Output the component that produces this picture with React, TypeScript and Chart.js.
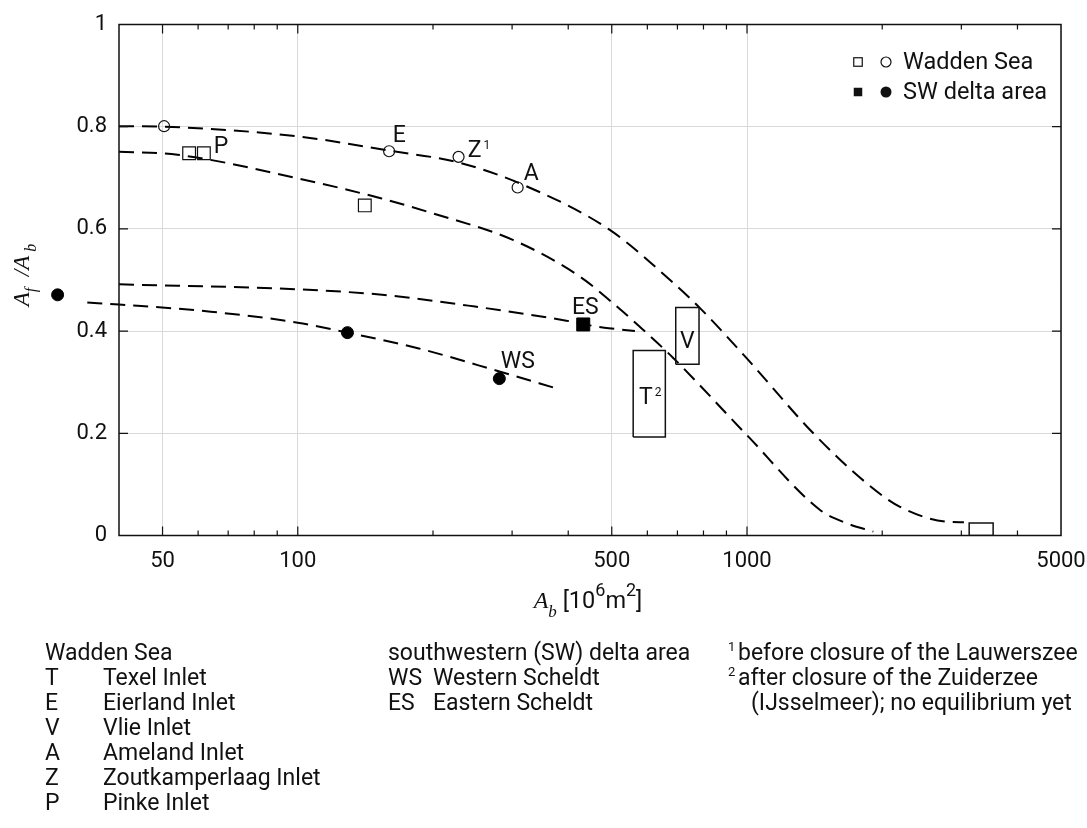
import React, { useEffect, useRef } from "react";
import { Chart, registerables } from "chart.js";

Chart.register(...registerables);

const CANVAS_W = 1087;
const CANVAS_H = 828;

// x: basin area Ab [10^6 m^2] (log axis), y: Af/Ab
const xMajorTicks = [50, 100, 500, 1000, 5000];
const xMinorTicks = [60, 70, 80, 90, 200, 300, 400, 600, 700, 800, 900, 2000, 3000, 4000];
const yTicks = [0, 0.2, 0.4, 0.6, 0.8, 1];

// dashed equilibrium curves
const upperCurveX = [40, 50, 100, 160, 228, 318, 495, 680, 786, 998, 1405, 1848, 2191, 2788, 3040];
const upperCurveY = [0.801, 0.8, 0.781, 0.753, 0.73, 0.686, 0.598, 0.497, 0.445, 0.347, 0.2, 0.102, 0.056, 0.027, 0.026];
const lowerCurveX = [40, 54, 100, 153, 197, 302, 425, 504, 578, 686, 998, 1454, 1667, 1911];
const lowerCurveY = [0.751, 0.745, 0.699, 0.66, 0.632, 0.578, 0.5065, 0.454, 0.408, 0.347, 0.197, 0.05, 0.024, 0.0075];
const esCurveX = [40, 100, 156, 248, 396, 432, 462, 563];
const esCurveY = [0.4916, 0.4818, 0.4706, 0.448, 0.4204, 0.414, 0.409, 0.4];
const wsCurveX = [34, 40, 64, 100, 129, 186, 281, 383];
const wsCurveY = [0.456, 0.452, 0.438, 0.4165, 0.397, 0.366, 0.321, 0.286];

// observations
const waddenCircleX = [50.4, 159.7, 228, 308.6];
const waddenCircleY = [0.801, 0.752, 0.741, 0.681];
const waddenSquareX = [57.3, 61.8, 141];
const waddenSquareY = [0.748, 0.748, 0.646];
const swCircleX = [29.2, 129, 281];
const swCircleY = [0.471, 0.397, 0.307];
const swSquareX = [432];
const swSquareY = [0.413];

// range boxes: [xMin, xMax, yMin, yMax]
const texelBox = [558, 658, 0.193, 0.362];
const vlieBox = [694, 782, 0.335, 0.446];
const largeBox = [3123, 3531, 0, 0.0245];

// point labels
const labelText = ["P", "E", "Z", "A", "ES", "WS", "T", "V"];
const labelSup = ["", "", "1", "", "", "", "2", ""];
const labelX = [65.0, 162.8, 239, 318.6, 407.7, 283, 574.7, 709];
const labelY = [0.7485, 0.77, 0.7407, 0.6957, 0.4335, 0.3278, 0.2573, 0.3669];

// legend & footnotes
const legendLabels = ["Wadden Sea", "SW delta area"];
const waddenCodes = ["T", "E", "V", "A", "Z", "P"];
const waddenNames = ["Texel Inlet", "Eierland Inlet", "Vlie Inlet", "Ameland Inlet", "Zoutkamperlaag Inlet", "Pinke Inlet"];
const swCodes = ["WS", "ES"];
const swNames = ["Western Scheldt", "Eastern Scheldt"];

const SANS = "Roboto, 'Noto Sans', sans-serif";
const SERIF = "'Liberation Serif', 'DejaVu Serif', serif";
const INK = "#111";

const pts = (xs: number[], ys: number[]) => xs.map((x, i) => ({ x, y: ys[i] }));
const boxPts = (b: number[]) => [
  { x: b[0], y: b[2] },
  { x: b[1], y: b[2] },
  { x: b[1], y: b[3] },
  { x: b[0], y: b[3] },
  { x: b[0], y: b[2] },
];

const curveDs = (xs: number[], ys: number[]) => ({
  data: pts(xs, ys),
  showLine: true,
  borderColor: "#000",
  borderWidth: 2,
  borderDash: [15, 8],
  pointRadius: 0,
  cubicInterpolationMode: "monotone" as const,
  fill: false,
  clip: false as const,
  order: 3,
});

const boxDs = (b: number[]) => ({
  data: boxPts(b),
  showLine: true,
  borderColor: "#111",
  borderWidth: 1.5,
  pointRadius: 0,
  tension: 0,
  fill: false,
  order: 2,
});

type Part = { t: string; font: string; dy: number };

function drawParts(ctx: CanvasRenderingContext2D, parts: Part[], cx: number, baseline: number) {
  let total = 0;
  for (const p of parts) {
    ctx.font = p.font;
    total += ctx.measureText(p.t).width;
  }
  let x = cx - total / 2;
  ctx.textAlign = "left";
  ctx.textBaseline = "alphabetic";
  for (const p of parts) {
    ctx.font = p.font;
    ctx.fillText(p.t, x, baseline + p.dy);
    x += ctx.measureText(p.t).width;
  }
}

const decorPlugin = {
  id: "decor",
  afterDatasetsDraw(chart: any) {
    const { ctx, chartArea: a } = chart;
    const xs = chart.scales.x;
    const ys = chart.scales.y;
    ctx.save();

    // points lying outside the plot frame (Chart.js skips them by default)
    const wide = { left: -1e4, top: -1e4, right: 1e4, bottom: 1e4 };
    chart.data.datasets.forEach((ds: any, i: number) => {
      if (ds.clip !== false || ds.showLine) return;
      const meta = chart.getDatasetMeta(i);
      meta.data.forEach((el: any) => {
        if (el.x < a.left || el.x > a.right || el.y < a.top || el.y > a.bottom) el.draw(ctx, wide);
      });
    });

    ctx.fillStyle = INK;
    ctx.strokeStyle = INK;

    // inward tick marks
    ctx.lineWidth = 1.2;
    ctx.beginPath();
    for (const v of xMajorTicks) {
      const p = xs.getPixelForValue(v);
      if (p <= a.left + 1 || p >= a.right - 1) continue;
      ctx.moveTo(p, a.bottom);
      ctx.lineTo(p, a.bottom - 9);
      ctx.moveTo(p, a.top);
      ctx.lineTo(p, a.top + 9);
    }
    for (const v of xMinorTicks) {
      const p = xs.getPixelForValue(v);
      ctx.moveTo(p, a.bottom);
      ctx.lineTo(p, a.bottom - 5);
      ctx.moveTo(p, a.top);
      ctx.lineTo(p, a.top + 5);
    }
    for (const v of yTicks) {
      const p = ys.getPixelForValue(v);
      if (p <= a.top + 1 || p >= a.bottom - 1) continue;
      ctx.moveTo(a.left, p);
      ctx.lineTo(a.left + 9, p);
      ctx.moveTo(a.right, p);
      ctx.lineTo(a.right - 9, p);
    }
    ctx.stroke();

    // frame
    ctx.lineWidth = 1.5;
    ctx.strokeRect(a.left, a.top, a.right - a.left, a.bottom - a.top);

    // point labels
    ctx.textAlign = "left";
    ctx.textBaseline = "alphabetic";
    labelText.forEach((t, i) => {
      const px = xs.getPixelForValue(labelX[i]);
      const py = ys.getPixelForValue(labelY[i]);
      ctx.font = `23px ${SANS}`;
      ctx.fillText(t, px, py);
      if (labelSup[i]) {
        const w = ctx.measureText(t).width;
        ctx.font = `12px ${SANS}`;
        ctx.fillText(labelSup[i], px + w + 2, py - 8);
      }
    });

    // legend
    const lx = a.right - 158;
    const rows = [a.top + 44.5, a.top + 74.5];
    ctx.lineWidth = 1.2;
    rows.forEach((by, i) => {
      const cy = by - 7;
      const sq = 8.5;
      if (i === 0) {
        ctx.strokeRect(lx - 45 - sq / 2, cy - sq / 2, sq, sq);
        ctx.beginPath();
        ctx.arc(lx - 17, cy, 5, 0, Math.PI * 2);
        ctx.stroke();
      } else {
        ctx.fillRect(lx - 45 - sq / 2, cy - sq / 2, sq, sq);
        ctx.beginPath();
        ctx.arc(lx - 17, cy, 5.5, 0, Math.PI * 2);
        ctx.fill();
      }
      ctx.font = `23.5px ${SANS}`;
      ctx.fillText(legendLabels[i], lx, by);
    });

    // x axis title: A_b [10^6 m^2]
    drawParts(
      ctx,
      [
        { t: "A", font: `italic 24px ${SERIF}`, dy: 0 },
        { t: "b", font: `italic 17px ${SERIF}`, dy: 9 },
        { t: " [10", font: `23.5px ${SANS}`, dy: 0 },
        { t: "6", font: `18px ${SANS}`, dy: -12 },
        { t: "m", font: `23.5px ${SANS}`, dy: 0 },
        { t: "2", font: `18px ${SANS}`, dy: -12 },
        { t: "]", font: `23.5px ${SANS}`, dy: 0 },
      ],
      (a.left + a.right) / 2 - 2,
      a.bottom + 72.5
    );

    // y axis title: A_f / A_b
    ctx.save();
    ctx.translate(29, (a.top + a.bottom) / 2 - 5);
    ctx.rotate(-Math.PI / 2);
    drawParts(
      ctx,
      [
        { t: "A", font: `italic 23px ${SERIF}`, dy: 0 },
        { t: "f", font: `italic 16px ${SERIF}`, dy: 7 },
        { t: "  /", font: `italic 23px ${SERIF}`, dy: 0 },
        { t: "A", font: `italic 23px ${SERIF}`, dy: 0 },
        { t: " b", font: `italic 16px ${SERIF}`, dy: 7 },
      ],
      0,
      0
    );
    ctx.restore();

    // footnotes / key
    const rowY = (k: number) => 660 + 25 * k;
    ctx.font = `23px ${SANS}`;
    ctx.fillText("Wadden Sea", 45, rowY(0));
    waddenCodes.forEach((c, i) => {
      ctx.fillText(c, 45, rowY(i + 1));
      ctx.fillText(waddenNames[i], 103, rowY(i + 1));
    });
    ctx.fillText("southwestern (SW) delta area", 388, rowY(0));
    swCodes.forEach((c, i) => {
      ctx.fillText(c, 388, rowY(i + 1));
      ctx.fillText(swNames[i], 433, rowY(i + 1));
    });
    ctx.font = `13px ${SANS}`;
    ctx.fillText("1", 728, rowY(0) - 9);
    ctx.fillText("2", 728, rowY(1) - 9);
    ctx.font = `23px ${SANS}`;
    ctx.fillText("before closure of the Lauwerszee", 738, rowY(0));
    ctx.fillText("after closure of the Zuiderzee", 738, rowY(1));
    ctx.fillText("(IJsselmeer); no equilibrium yet", 751, rowY(2));

    ctx.restore();
  },
};

export default function App() {
  const ref = useRef<HTMLCanvasElement | null>(null);

  useEffect(() => {
    if (!ref.current) return;
    const chart = new Chart(ref.current, {
      type: "scatter",
      data: {
        datasets: [
          {
            data: pts(waddenCircleX, waddenCircleY),
            pointStyle: "circle",
            pointRadius: 5.5,
            pointBorderWidth: 1.2,
            pointBorderColor: "#111",
            pointBackgroundColor: "rgba(255,255,255,0)",
            order: 0,
          },
          {
            data: pts(waddenSquareX, waddenSquareY),
            pointStyle: "rect",
            pointRadius: 9,
            pointBorderWidth: 1.2,
            pointBorderColor: "#111",
            pointBackgroundColor: "rgba(255,255,255,0)",
            order: 0,
          },
          {
            data: pts(swCircleX, swCircleY),
            pointStyle: "circle",
            pointRadius: 6,
            pointBorderWidth: 1,
            pointBorderColor: "#000",
            pointBackgroundColor: "#000",
            clip: false,
            order: 0,
          },
          {
            data: pts(swSquareX, swSquareY),
            pointStyle: "rect",
            pointRadius: 9.2,
            pointBorderWidth: 1,
            pointBorderColor: "#000",
            pointBackgroundColor: "#000",
            order: 0,
          },
          boxDs(texelBox),
          boxDs(vlieBox),
          boxDs(largeBox),
          curveDs(upperCurveX, upperCurveY),
          curveDs(lowerCurveX, lowerCurveY),
          curveDs(esCurveX, esCurveY),
          curveDs(wsCurveX, wsCurveY),
        ] as any,
      },
      options: {
        responsive: false,
        animation: false,
        events: [],
        layout: { padding: { top: 24.5, right: 26, left: 0, bottom: 0 } },
        plugins: {
          legend: { display: false },
          tooltip: { enabled: false },
          title: { display: false },
        },
        scales: {
          x: {
            type: "logarithmic",
            position: "bottom",
            min: 40,
            max: 5000,
            afterBuildTicks: (s: any) => {
              s.ticks = xMajorTicks.map((v) => ({ value: v }));
            },
            afterFit: (s: any) => {
              s.height = 292.5;
              s.paddingLeft = 0;
              s.paddingRight = 0;
            },
            ticks: {
              callback: (v: any) => String(v),
              font: { family: SANS, size: 22 },
              color: INK,
              padding: 13,
              maxRotation: 0,
              autoSkip: false,
            },
            grid: { color: "#d9d9d9", lineWidth: 1, drawTicks: false },
            border: { display: false },
          },
          y: {
            type: "linear",
            min: 0,
            max: 1,
            afterBuildTicks: (s: any) => {
              s.ticks = yTicks.map((v) => ({ value: v }));
            },
            afterFit: (s: any) => {
              s.width = 119;
              s.paddingTop = 0;
              s.paddingBottom = 0;
            },
            ticks: {
              callback: (v: any) => (v === 0 ? "0" : v === 1 ? "1" : Number(v).toFixed(1)),
              font: { family: SANS, size: 22 },
              color: INK,
              padding: 12,
            },
            grid: { color: "#d9d9d9", lineWidth: 1, drawTicks: false },
            border: { display: false },
          },
        },
      },
      plugins: [decorPlugin],
    } as any);
    return () => chart.destroy();
  }, []);

  return (
    <div style={{ position: "fixed", left: 0, top: 0, width: CANVAS_W, height: CANVAS_H, background: "#fff" }}>
      <canvas ref={ref} width={CANVAS_W} height={CANVAS_H} style={{ display: "block" }} />
    </div>
  );
}
